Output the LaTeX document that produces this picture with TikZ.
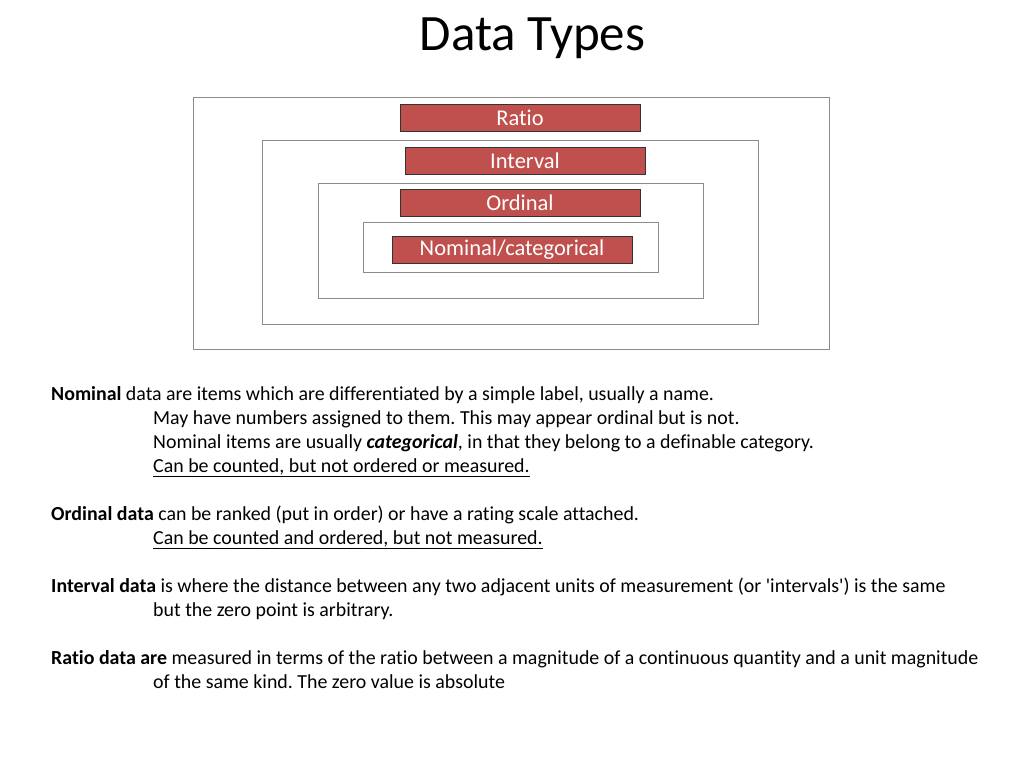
\documentclass[tikz,border=0pt]{standalone}
\usepackage{fontspec}
\defaultfontfeatures{}
\setmainfont{Carlito}[Ligatures={NoCommon}]
\frenchspacing
\begin{document}
\begin{tikzpicture}[x=1pt,y=-1pt,
  frame/.style={draw=black!45,line width=1pt},
  redbox/.style={draw=black!80,fill=boxred,line width=0.8pt,text=white,minimum width=240pt,minimum height=27pt,inner sep=0pt,font=\fontsize{22.5}{26}\selectfont},
  line/.style={anchor=base west,inner sep=0pt,font=\fontsize{19.9}{24}\selectfont}]
\definecolor{boxred}{HTML}{C0504D}
\useasboundingbox (0,0) rectangle (1024,768);
\node[font=\fontsize{51}{60}\selectfont,inner sep=0pt] (title) at (532.5,38) {Data Types};
\draw[frame] (193,97) rectangle (829,349);
\draw[frame] (262,140) rectangle (758,324);
\draw[frame] (318,183) rectangle (703,298);
\draw[frame] (363,222) rectangle (658,272);
\node[redbox] (ratio) at (520,118) {Ratio};
\node[redbox] (interval) at (525,161) {Interval};
\node[redbox] (ordinal) at (520,203) {Ordinal};
\node[redbox] (nominal) at (512,249.5) {Nominal/categorical};
\node[line] (t1) at (51,400) {\textbf{Nominal} data are items which are differentiated by a simple label, usually a name.};
\node[line] (t2) at (153,424) {May have numbers assigned to them. This may appear ordinal but is not.};
\node[line] (t3) at (153,448) {Nominal items are usually \textbf{\textit{categorical}}, in that they belong to a definable category.};
\node[line] (t4) at (153,472) {\underline{Can be counted, but not ordered or measured.}};
\node[line] (t5) at (51,520) {\textbf{Ordinal data} can be ranked (put in order) or have a rating scale attached.};
\node[line] (t6) at (153,544) {\underline{Can be counted and ordered, but not measured.}};
\node[line] (t7) at (51,592) {\textbf{Interval data} is where the distance between any two adjacent units of measurement (or \textquotesingle intervals\textquotesingle) is the same};
\node[line] (t8) at (153,616) {but the zero point is arbitrary.};
\node[line] (t9) at (51,664) {\textbf{Ratio data are} measured in terms of the ratio between a magnitude of a continuous quantity and a unit magnitude};
\node[line] (t10) at (153,688) {of the same kind. The zero value is absolute};
\end{tikzpicture}
\end{document}
